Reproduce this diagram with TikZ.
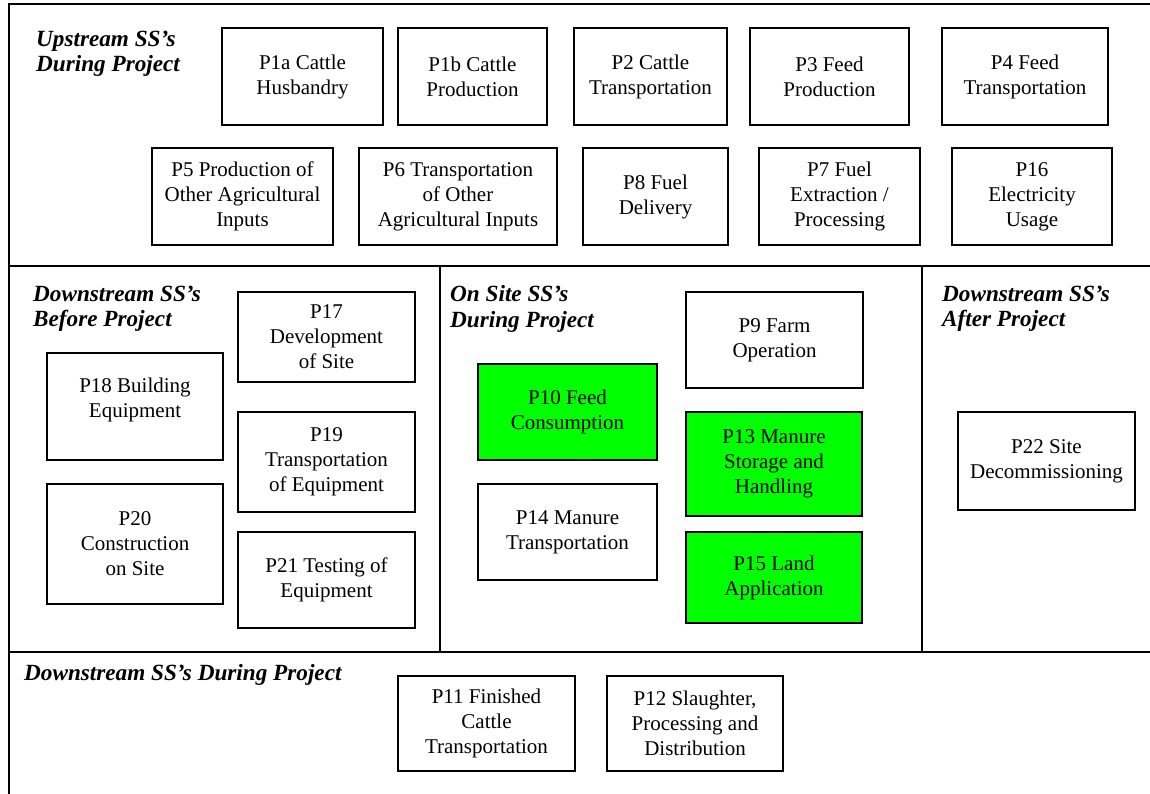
\documentclass[tikz,border=0pt]{standalone}
\usepackage{fontspec}
\setmainfont{Liberation Serif}
\definecolor{boxgreen}{HTML}{00FF00}
\tikzset{
  pbox/.style={draw, line width=1.6pt, align=center, inner sep=0pt,
    font=\fontsize{21}{25}\selectfont},
  gbox/.style={pbox, fill=boxgreen},
  hdr/.style={align=left, anchor=west, inner sep=0pt,
    font=\fontsize{23.2}{25.5}\selectfont\bfseries\itshape},
  frame/.style={line width=2.2pt},
}
\begin{document}
\begin{tikzpicture}[x=1pt,y=-1pt]
\useasboundingbox (0,0) rectangle (1150,794);
% frame
\coordinate (tl) at (9,4);
\coordinate (tr) at (1150,4);
\coordinate (bl) at (9,794);
\coordinate (s1l) at (9,266);
\coordinate (s1r) at (1150,266);
\coordinate (s2l) at (9,652);
\coordinate (s2r) at (1150,652);
\coordinate (d1t) at (440,266);
\coordinate (d1b) at (440,652);
\coordinate (d2t) at (922,266);
\coordinate (d2b) at (922,652);
\draw[frame] (tr) -- (tl) -- (bl);
\draw[frame] (s1l) -- (s1r);
\draw[frame] (s2l) -- (s2r);
\draw[frame] (d1t) -- (d1b);
\draw[frame] (d2t) -- (d2b);

% headers
\node[hdr] (hup) at (36,54) {Upstream SS’s\\During Project};
\node[hdr] (hbefore) at (33,309) {Downstream SS’s\\Before Project};
\node[hdr] (honsite) at (450,309) {On Site SS’s\\During Project};
\node[hdr] (hafter) at (942,309) {Downstream SS’s\\After Project};
\node[hdr] (hduring) at (24,675) {Downstream SS’s During Project};

% upstream row 1
\node[pbox, minimum width=161, minimum height=97] (p1a) at (302.5,76.5) {P1a Cattle\\Husbandry};
\node[pbox, minimum width=149, minimum height=97] (p1b) at (472.5,76.5) {P1b Cattle\\Production};
\node[pbox, minimum width=153, minimum height=97] (p2) at (650.5,76.5) {P2 Cattle\\Transportation};
\node[pbox, minimum width=159, minimum height=97] (p3) at (829.5,76.5) {P3 Feed\\Production};
\node[pbox, minimum width=166, minimum height=97] (p4) at (1025,76.5) {P4 Feed\\Transportation};
% upstream row 2
\node[pbox, minimum width=181, minimum height=97] (p5) at (242.5,196.5) {P5 Production of\\Other Agricultural\\Inputs};
\node[pbox, minimum width=198, minimum height=97] (p6) at (458,196.5) {P6 Transportation\\of Other\\Agricultural Inputs};
\node[pbox, minimum width=145, minimum height=97] (p8) at (655.5,196.5) {P8 Fuel\\Delivery};
\node[pbox, minimum width=161, minimum height=97] (p7) at (839.5,196.5) {P7 Fuel\\Extraction /\\Processing};
\node[pbox, minimum width=160, minimum height=97] (p16) at (1032,196.5) {P16\\Electricity\\Usage};

% downstream before project
\node[pbox, minimum width=177, minimum height=90] (p17) at (326.5,337) {P17\\Development\\of Site};
\node[pbox, minimum width=176, minimum height=107, text depth=18pt] (p18) at (135,406.5) {P18 Building\\Equipment};
\node[pbox, minimum width=177, minimum height=100] (p19) at (326.5,462) {P19\\Transportation\\of Equipment};
\node[pbox, minimum width=176, minimum height=120] (p20) at (135,544) {P20\\Construction\\on Site};
\node[pbox, minimum width=177, minimum height=96] (p21) at (326.5,580) {P21 Testing of\\Equipment};

% on site
\node[pbox, minimum width=177, minimum height=96] (p9) at (774.5,340) {P9 Farm\\Operation};
\node[gbox, minimum width=179, minimum height=96] (p10) at (567.5,412) {P10 Feed\\Consumption};
\node[gbox, minimum width=176, minimum height=104] (p13) at (774,464) {P13 Manure\\Storage and\\Handling};
\node[pbox, minimum width=179, minimum height=96] (p14) at (567.5,532) {P14 Manure\\Transportation};
\node[gbox, minimum width=176, minimum height=91] (p15) at (774,577.5) {P15 Land\\Application};

% after project
\node[pbox, minimum width=177, minimum height=98] (p22) at (1046.5,461) {P22 Site\\Decommissioning};

% downstream during project
\node[pbox, minimum width=177, minimum height=95] (p11) at (486.5,723.5) {P11 Finished\\Cattle\\Transportation};
\node[pbox, minimum width=176, minimum height=95] (p12) at (695,723.5) {P12 Slaughter,\\Processing and\\Distribution};
\end{tikzpicture}
\end{document}
